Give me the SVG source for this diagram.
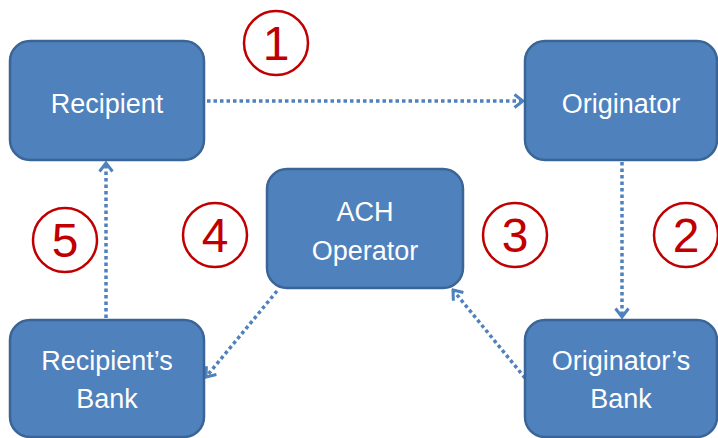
<svg xmlns="http://www.w3.org/2000/svg" width="718" height="438" viewBox="0 0 718 438">
<defs>
<style>
.node rect{fill:#4F81BD;stroke:#3A6596;stroke-width:2.5}
.node text{fill:#fff;font-family:"Liberation Sans",Arial,sans-serif;font-size:27px;text-anchor:middle}
.conn{stroke:#4F81BD;stroke-width:3.5;stroke-dasharray:3.5 3;fill:none;marker-end:url(#arr)}
.num circle{fill:none;stroke:#C00000;stroke-width:2.5}
.num text{fill:#C00000;font-family:"Liberation Sans",Arial,sans-serif;font-size:48px;text-anchor:middle}
</style>
<marker id="arr" markerWidth="12" markerHeight="16" refX="10" refY="8" orient="auto" markerUnits="userSpaceOnUse" viewBox="0 0 12 16">
<polyline points="1.5,1.5 10,8 1.5,14.5" fill="none" stroke="#4F81BD" stroke-width="3"/>
</marker>
</defs>
<rect width="718" height="438" fill="#fff"/>
<g id="connectors">
<line class="conn" x1="207" y1="101" x2="523" y2="101"/>
<line class="conn" x1="622" y1="162" x2="622" y2="317"/>
<line class="conn" x1="525" y1="378" x2="453" y2="290"/>
<line class="conn" x1="277" y1="291" x2="206" y2="377"/>
<line class="conn" x1="106" y1="318" x2="106" y2="163"/>
</g>
<g id="recipient" class="node"><rect x="10" y="41" width="194" height="119" rx="20"/><text x="107" y="113">Recipient</text></g>
<g id="originator" class="node"><rect x="525" y="41" width="192" height="119" rx="20"/><text x="621" y="113">Originator</text></g>
<g id="ach" class="node"><rect x="267" y="169" width="196" height="119" rx="20"/><text x="365" y="221">ACH</text><text x="365" y="260">Operator</text></g>
<g id="recipients-bank" class="node"><rect x="10" y="320" width="194" height="117" rx="20"/><text x="107" y="370">Recipient’s</text><text x="107" y="408">Bank</text></g>
<g id="originators-bank" class="node"><rect x="525" y="320" width="192" height="117" rx="20"/><text x="621" y="370">Originator’s</text><text x="621" y="408">Bank</text></g>
<g id="n1" class="num"><circle cx="276" cy="43" r="32"/><text x="276" y="60">1</text></g>
<g id="n2" class="num"><circle cx="686" cy="235" r="32"/><text x="686" y="252">2</text></g>
<g id="n3" class="num"><circle cx="515" cy="235" r="32"/><text x="515" y="252">3</text></g>
<g id="n4" class="num"><circle cx="215" cy="235" r="32"/><text x="215" y="252">4</text></g>
<g id="n5" class="num"><circle cx="65" cy="240" r="32"/><text x="65" y="257">5</text></g>
</svg>
